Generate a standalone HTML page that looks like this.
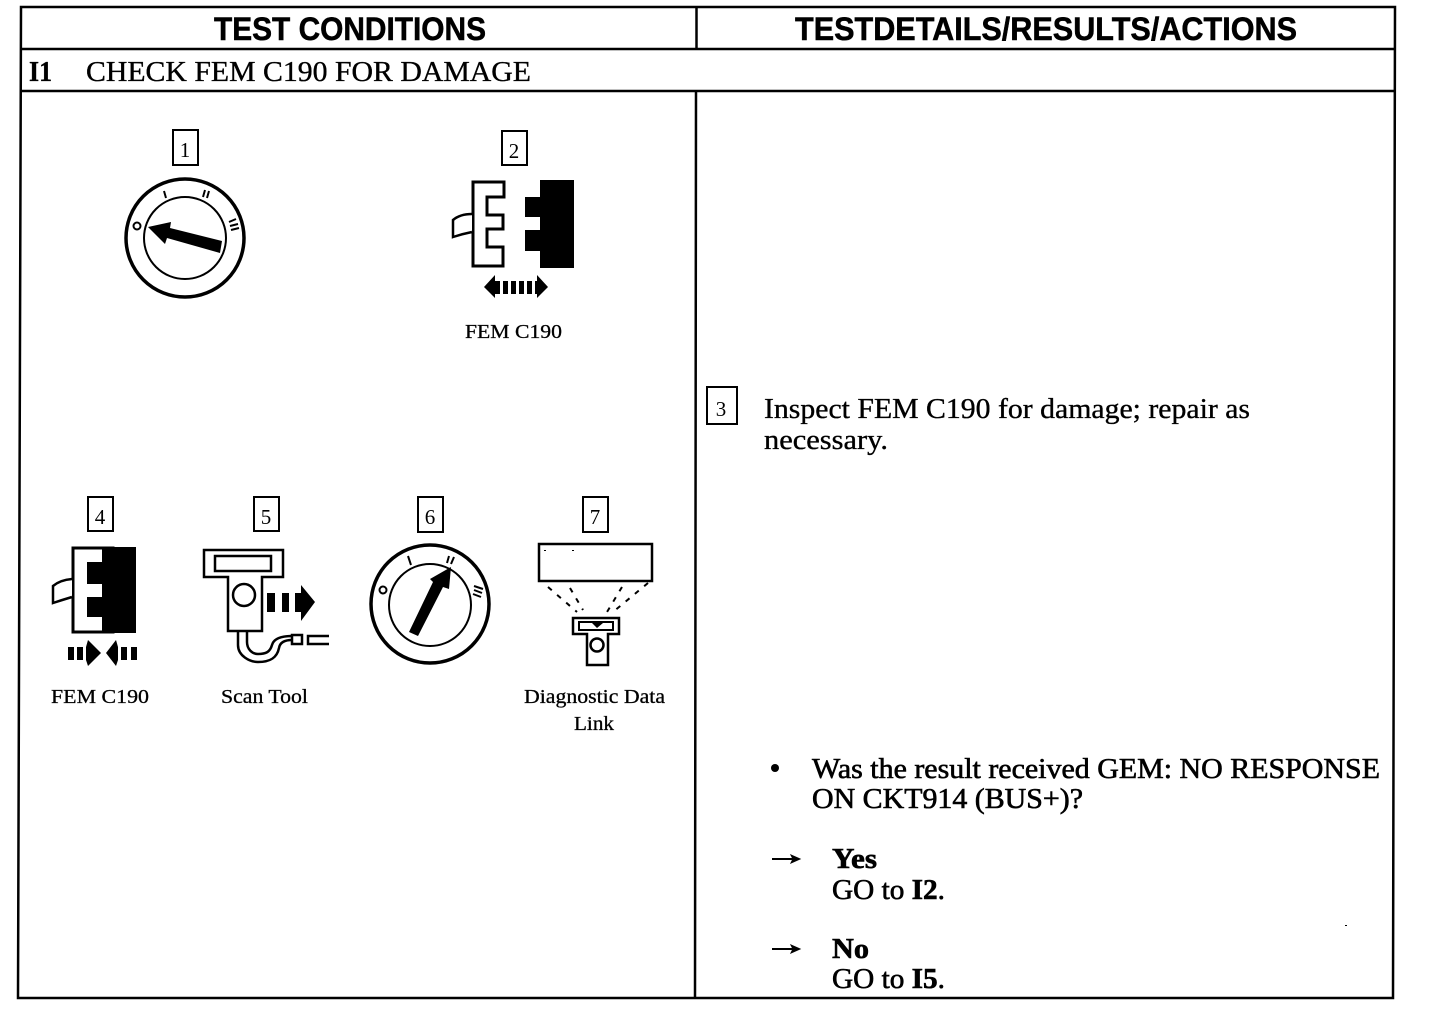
<!DOCTYPE html>
<html><head><meta charset="utf-8"><style>
html,body{margin:0;padding:0;background:#fff;width:1456px;height:1016px;overflow:hidden}
svg{display:block}
text{font-family:"Liberation Serif",serif;fill:#000}
.h{font-family:"Liberation Sans",sans-serif;font-weight:bold;font-size:32px;stroke:#000;stroke-width:.5}
.t{font-size:28px;stroke:#000;stroke-width:.35}
.m{font-size:28px;stroke:#000;stroke-width:.6}
.l{font-size:20px;stroke:#000;stroke-width:.3}
.n{font-size:21px;text-anchor:middle}
.b{fill:#fff;stroke:#000;stroke-width:2}
</style></head><body>
<svg width="1456" height="1016" viewBox="0 0 1456 1016" xmlns="http://www.w3.org/2000/svg">
<g fill="none" stroke="#000" stroke-width="2.5">
<path d="M21 7H1395L1393 998H18Z"/>
<path d="M21 49H1395M20 91H1395" />
<path d="M696.500 7V49M696 91L695 998"/>
</g>
<text class="h" x="214" y="40" textLength="272" lengthAdjust="spacingAndGlyphs">TEST CONDITIONS</text>
<text class="h" x="795" y="40" textLength="502" lengthAdjust="spacingAndGlyphs">TESTDETAILS/RESULTS/ACTIONS</text>
<text class="t" x="29" y="81" textLength="23" lengthAdjust="spacingAndGlyphs" font-weight="bold">I1</text>
<text class="t" x="86" y="81" textLength="445" lengthAdjust="spacingAndGlyphs">CHECK FEM C190 FOR DAMAGE</text>

<!-- number boxes -->
<rect class="b" x="173" y="130" width="25" height="35"/><text class="n" x="185" y="157">1</text>
<rect class="b" x="502" y="131" width="25" height="34"/><text class="n" x="514" y="158">2</text>
<rect class="b" x="707" y="387" width="30" height="37"/><text class="n" x="721" y="416">3</text>
<rect class="b" x="88" y="497" width="25" height="34"/><text class="n" x="100" y="524">4</text>
<rect class="b" x="254" y="497" width="25" height="34"/><text class="n" x="266" y="524">5</text>
<rect class="b" x="418" y="497" width="25" height="35"/><text class="n" x="430" y="524">6</text>
<rect class="b" x="583" y="497" width="25" height="35"/><text class="n" x="595" y="524">7</text>

<!-- key switch 1 -->
<circle cx="185" cy="238" r="59" fill="none" stroke="#000" stroke-width="3.500"/>
<circle cx="185" cy="238" r="41" fill="none" stroke="#000" stroke-width="2"/>
<polygon points="148,227 171,222 170,228 222,241 220,253 167,238 165,244" fill="#000"/>
<g stroke="#000" stroke-width="2" fill="none">
<circle cx="137" cy="226" r="3.500"/>
<path d="M164 191L166 198M205 190L203 197M209 191L207 198M229 222L236 219M230 226L238 224M231 230L239 228"/>
</g>

<!-- connector 2 -->
<polygon points="473,182 504,182 504,197 487,197 487,215 503,215 503,229 487,229 487,247 503,247 503,266 473,266" fill="#fff" stroke="#000" stroke-width="3"/>
<path d="M472 214Q460 214 453 220V237Q462 234 472 232" fill="#fff" stroke="#000" stroke-width="2.500"/>
<polygon points="540,180 574,180 574,268 540,268 540,251 525,251 525,230 540,230 540,217 525,217 525,197 540,197" fill="#000"/>
<g fill="#000">
<polygon points="484,287 495,275 495,298"/>
<rect x="495" y="281" width="5" height="13"/><rect x="503" y="281" width="5" height="13"/><rect x="511" y="281" width="5" height="13"/><rect x="519" y="281" width="5" height="13"/><rect x="527" y="281" width="5" height="13"/>
<rect x="535" y="281" width="4" height="13"/>
<polygon points="548,287 537,275 537,298"/>
</g>
<text class="l" x="465" y="338" textLength="97" lengthAdjust="spacingAndGlyphs">FEM C190</text>

<!-- connector 4 -->
<rect x="73" y="548" width="40" height="84" fill="#fff" stroke="#000" stroke-width="3"/>
<polygon points="102,547 136,547 136,633 102,633 102,617 87,617 87,597 102,597 102,584 87,584 87,562 102,562" fill="#000"/>
<path d="M72 579Q60 580 53 586V603Q62 600 72 597" fill="#fff" stroke="#000" stroke-width="2.500"/>
<g fill="#000">
<rect x="68" y="647" width="6" height="13"/><rect x="77" y="647" width="6" height="13"/>
<polygon points="86,647 88,640 101,653 88,666 86,660"/>
<polygon points="106,653 116,640 118,647 118,660 116,666"/>
<rect x="121" y="647" width="6" height="13"/><rect x="131" y="647" width="6" height="13"/>
</g>
<text class="l" x="51" y="703" textLength="98" lengthAdjust="spacingAndGlyphs">FEM C190</text>

<!-- scan tool 5 -->
<polygon points="204,550 283,550 283,577 262,577 262,631 228,631 228,577 204,577" fill="#fff" stroke="#000" stroke-width="2.500"/>
<rect x="215" y="556" width="56" height="15" fill="#fff" stroke="#000" stroke-width="2.500"/>
<circle cx="244" cy="595" r="11" fill="#fff" stroke="#000" stroke-width="2.500"/>
<g fill="#000">
<rect x="267" y="593" width="8" height="19"/><rect x="282" y="593" width="7" height="19"/>
<polygon points="295,593 301,593 301,585 315,602 301,621 301,612 295,612"/>
</g>
<path d="M238 632V645C238 656 250 662 258 662C270 662 277 658 279 648C280 642 285 640 292 640M247 632V642C247 649 252 654 258 654C266 654 270 652 272 645C274 638 282 636 292 636" fill="none" stroke="#000" stroke-width="2.500"/>
<rect x="292" y="635" width="10" height="9" fill="#fff" stroke="#000" stroke-width="2.500"/>
<path d="M329 636H308V644H329" fill="none" stroke="#000" stroke-width="2.500"/>
<text class="l" x="221" y="703" textLength="87" lengthAdjust="spacingAndGlyphs">Scan Tool</text>

<!-- key switch 6 -->
<circle cx="430" cy="604" r="59" fill="none" stroke="#000" stroke-width="3.500"/>
<circle cx="430" cy="605" r="41" fill="none" stroke="#000" stroke-width="2"/>
<polygon points="451,567 449,589 443,587 418,636 409,632 433,582 430,579" fill="#000"/>
<g stroke="#000" stroke-width="2" fill="none">
<circle cx="383" cy="590" r="3.500"/>
<path d="M408 556L411 565M449 556L447 563M454 557L451 564M474 586L483 589M474 590L482 593M473 594L481 597"/>
</g>

<!-- data link 7 -->
<rect x="539" y="544" width="113" height="37" fill="#fff" stroke="#000" stroke-width="2.500"/>
<rect x="544" y="550" width="2" height="1" fill="#000"/><rect x="572" y="550" width="2" height="1" fill="#000"/>
<g stroke="#000" stroke-width="2" stroke-dasharray="5 7" fill="none">
<path d="M548 587L577 612M570 588L583 610M622 587L607 612M648 583L613 612"/>
</g>
<polygon points="573,618 619,618 619,634 608,634 608,665 587,665 587,634 573,634" fill="#fff" stroke="#000" stroke-width="2.500"/>
<rect x="579" y="622" width="34" height="8" fill="#fff" stroke="#000" stroke-width="2"/>
<polygon points="592,623 603,623 597,628" fill="#000"/>
<circle cx="597" cy="645" r="6.500" fill="#fff" stroke="#000" stroke-width="2.500"/>
<text class="l" x="524" y="703" textLength="141" lengthAdjust="spacingAndGlyphs">Diagnostic Data</text>
<text class="l" x="574" y="730" textLength="40" lengthAdjust="spacingAndGlyphs">Link</text>

<!-- right column -->
<text class="t" x="764" y="418" textLength="486" lengthAdjust="spacingAndGlyphs">Inspect FEM C190 for damage; repair as</text>
<text class="t" x="764" y="449" textLength="124" lengthAdjust="spacingAndGlyphs">necessary.</text>
<circle cx="775" cy="768" r="4" fill="#000"/>
<text class="m" x="812" y="778" textLength="568" lengthAdjust="spacingAndGlyphs">Was the result received GEM: NO RESPONSE</text>
<text class="m" x="812" y="808" textLength="271" lengthAdjust="spacingAndGlyphs">ON CKT914 (BUS+)?</text>

<g stroke="#000" stroke-width="2" fill="#000">
<path d="M772 859H794" fill="none"/><polygon points="800,859 791,855 793,859 791,863" stroke-width="1"/>
<path d="M772 949H794" fill="none"/><polygon points="800,949 791,945 793,949 791,953" stroke-width="1"/>
</g>
<text class="m" x="832" y="868" textLength="45" lengthAdjust="spacingAndGlyphs" font-weight="bold">Yes</text>
<text class="m" x="832" y="899" textLength="113" lengthAdjust="spacingAndGlyphs">GO to <tspan font-weight="bold">I2</tspan>.</text>
<text class="m" x="832" y="958" textLength="37" lengthAdjust="spacingAndGlyphs" font-weight="bold">No</text>
<text class="m" x="832" y="988" textLength="113" lengthAdjust="spacingAndGlyphs">GO to <tspan font-weight="bold">I5</tspan>.</text>
<rect x="1345" y="925" width="2" height="1" fill="#000"/>
</svg>
</body></html>
